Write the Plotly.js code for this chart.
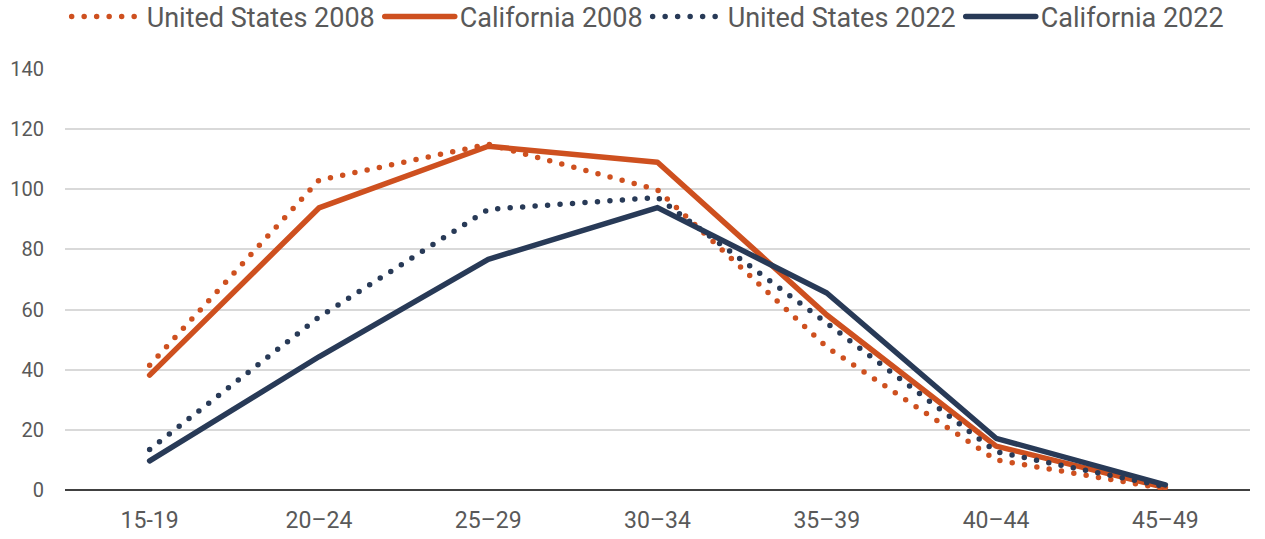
<!DOCTYPE html>
<html>
<head>
<meta charset="utf-8">
<script src="https://cdn.plot.ly/plotly-3.0.1.min.js"></script>
<style>
html,body{margin:0;padding:0;background:#fff;}
#chart{width:1265px;height:539px;}
</style>
</head>
<body>
<div id="chart"></div>
<script>
const categories = ["15-19", "20\u201324", "25\u201329", "30\u201334", "35\u201339", "40\u201344", "45\u201349"];
const usa2008 = [41.5, 103, 115, 99.8, 47.5, 10, 0.4];
const ca2008  = [38.2, 93.8, 114.3, 109, 58.2, 14.6, 0.8];
const usa2022 = [13.5, 57.5, 93.3, 97.3, 55.5, 12.7, 1.1];
const ca2022  = [9.7, 44.3, 76.7, 93.9, 65.5, 17.2, 1.7];
const tickVals = [0, 20, 40, 60, 80, 100, 120, 140];

const orange = "#CE501F";
const navy = "#283A57";

function trace(name, y, color, dotted) {
  return {
    type: "scatter", mode: "lines", name: name, x: categories, y: y,
    line: {color: color, width: dotted ? 5.5 : 5.5, dash: dotted ? "0px,12.5px" : "solid", shape: "linear"},
    hoverinfo: "skip"
  };
}

const data = [
  trace("United States 2008", usa2008, orange, true),
  trace("California 2008", ca2008, orange, false),
  trace("United States 2022", usa2022, navy, true),
  trace("California 2022", ca2022, navy, false)
];

const layout = {
  width: 1265, height: 539,
  margin: {l: 65, r: 15, t: 69, b: 49},
  paper_bgcolor: "#fff", plot_bgcolor: "#fff",
  font: {family: "Roboto, 'Noto Sans', sans-serif", color: "#595959", size: 20},
  showlegend: true,
  legend: {
    orientation: "h", xref: "container", yref: "container",
    x: 0.0527, xanchor: "left", y: 0.9685, yanchor: "middle",
    font: {size: 27, color: "#595959"}, itemwidth: 70, traceorder: "normal",
    itemclick: false, itemdoubleclick: false, bgcolor: "rgba(0,0,0,0)"
  },
  xaxis: {
    type: "category", range: [-0.5, 6.5], automargin: false,
    showgrid: false, zeroline: false, showline: false,
    ticks: "", tickfont: {size: 23, color: "#595959"}, ticklabelstandoff: 14
  },
  yaxis: {
    range: [0, 140], tickvals: tickVals, ticktext: tickVals.map(String), automargin: false,
    showgrid: true, gridcolor: "#d9d9d9", gridwidth: 2,
    zeroline: true, zerolinecolor: "#404040", zerolinewidth: 2,
    showline: false, ticks: "", tickfont: {size: 20, color: "#595959"},
    ticklabelstandoff: 20
  }
};

Plotly.newPlot("chart", data, layout, {staticPlot: true, displayModeBar: false}).then(function () {
  document.querySelectorAll(".scatterlayer .trace path.js-line, .legend .traces path.js-line").forEach(function (p) {
    p.style.strokeLinecap = "round";
    p.style.strokeLinejoin = "round";
  });
});
</script>
</body>
</html>
